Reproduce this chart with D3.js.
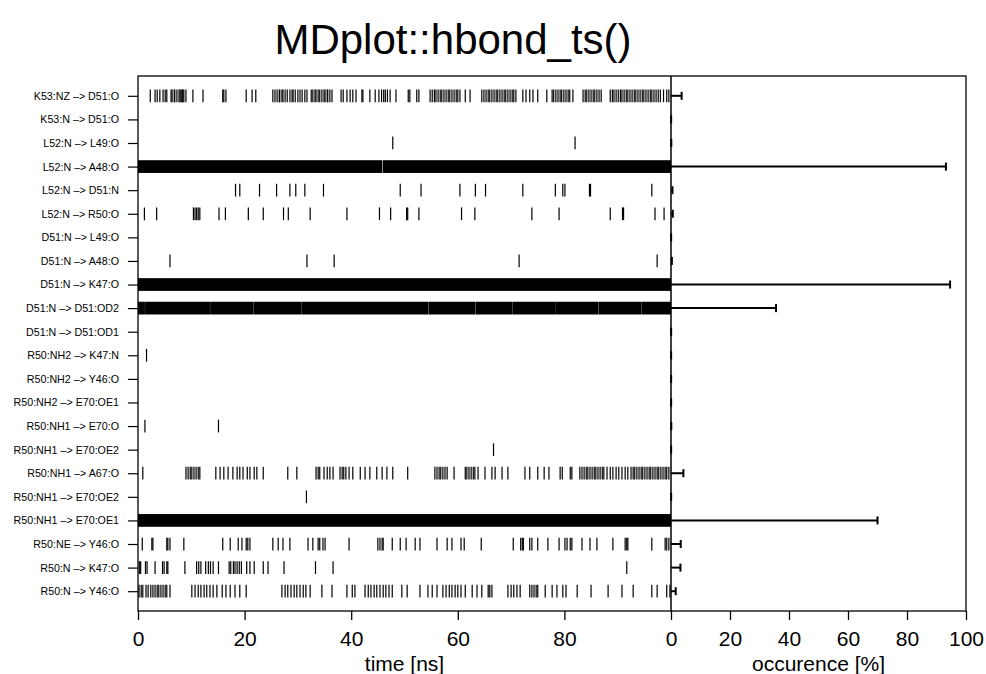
<!DOCTYPE html>
<html>
<head>
<meta charset="utf-8">
<script src="https://cdn.jsdelivr.net/npm/d3@7"></script>
<style>
  body { margin: 0; background: #fff; }
  svg text { font-family: "Liberation Sans", Arial, Helvetica, sans-serif; fill: #000; }
</style>
</head>
<body>
<svg id="chart" width="986" height="674"></svg>
<script>
// Hydrogen bond donor -> acceptor pairs, top to bottom
const hbondLabels = [
  "K53:NZ –> D51:O", "K53:N –> D51:O", "L52:N –> L49:O", "L52:N –> A48:O",
  "L52:N –> D51:N", "L52:N –> R50:O", "D51:N –> L49:O", "D51:N –> A48:O",
  "D51:N –> K47:O", "D51:N –> D51:OD2", "D51:N –> D51:OD1", "R50:NH2 –> K47:N",
  "R50:NH2 –> Y46:O", "R50:NH2 –> E70:OE1", "R50:NH1 –> E70:O", "R50:NH1 –> E70:OE2",
  "R50:NH1 –> A67:O", "R50:NH1 –> E70:OE2", "R50:NH1 –> E70:OE1", "R50:NE –> Y46:O",
  "R50:N –> K47:O", "R50:N –> Y46:O"
];

// Occurrence of each hydrogen bond over the trajectory [%]
const occurrence = [
  3.6, 0.05, 0.1, 93.2, 0.5, 0.6, 0.05, 0.3, 94.6, 35.6, 0.05,
  0.05, 0.05, 0.05, 0.1, 0.05, 4.2, 0.05, 70.0, 3.3, 3.2, 1.6
];

// Individual frames [ns] in which the hydrogen bond is present
const hbondFrames = [
  [2.3, 3.2, 3.6, 4.1, 4.7, 5.1, 5.4, 6.2, 6.4, 6.8, 6.9, 7.3, 7.7, 7.9, 8.1, 8.3, 8.4, 8.6, 9.0,
   10.3, 12.2, 15.9, 16.1, 16.5, 20.3, 21.4, 22.1, 25.3, 25.7, 26.1, 26.5, 26.6, 27.0, 27.2, 27.6,
   28.0, 28.5, 28.9, 29.1, 29.5, 30.0, 30.4, 30.8, 31.3, 31.7, 32.5, 32.8, 33.2, 33.4, 33.8, 34.1,
   34.5, 34.9, 35.1, 35.5, 35.6, 36.0, 36.4, 38.1, 38.5, 39.2, 39.8, 40.3, 40.9, 42.0, 42.2, 43.5,
   44.5, 45.2, 45.7, 46.1, 46.4, 46.8, 47.3, 48.4, 50.7, 51.0, 52.3, 52.7, 54.8, 55.2, 55.6, 55.9,
   56.3, 56.7, 57.0, 57.4, 57.8, 58.2, 58.5, 58.9, 59.3, 59.7, 60.0, 60.4, 61.4, 62.3, 64.5, 64.9,
   65.3, 65.7, 66.0, 66.4, 66.8, 67.2, 67.5, 67.9, 68.3, 68.7, 69.0, 69.4, 69.8, 70.2, 70.5, 70.9,
   72.2, 72.8, 73.5, 74.1, 75.0, 76.7, 77.7, 78.0, 78.4, 78.8, 79.2, 79.5, 79.9, 80.3, 80.7, 81.0,
   81.6, 83.5, 83.9, 84.2, 84.6, 85.0, 85.4, 85.7, 86.1, 86.5, 86.9, 88.6, 89.0, 89.3, 89.7, 90.1,
   90.5, 90.8, 91.2, 91.6, 91.9, 92.3, 92.7, 93.1, 93.4, 93.8, 94.2, 94.6, 94.9, 95.3, 95.7, 96.1,
   96.4, 96.8, 97.2, 97.6, 98.0, 98.6, 99.2, 99.6],
  [],
  [47.8, 82.0],
  [],
  [18.3, 19.1, 22.8, 26.0, 28.5, 29.6, 31.3, 34.8, 49.2, 53.1, 60.4, 63.3, 65.2, 72.2, 78.3, 79.7,
   80.1, 84.7, 84.9, 96.4],
  [1.2, 3.5, 10.4, 10.7, 11.0, 11.3, 11.6, 15.2, 16.4, 20.7, 23.5, 27.3, 28.2, 32.3, 39.2, 45.3,
   47.4, 50.4, 50.6, 52.7, 60.7, 63.2, 73.9, 79.0, 88.6, 90.9, 91.1, 97.0, 98.7],
  [],
  [6.0, 31.7, 36.8, 71.5, 97.4],
  [],
  [],
  [],
  [1.6],
  [],
  [],
  [1.3, 15.1],
  [66.7],
  [0.9, 9.0, 9.4, 9.8, 10.1, 10.5, 10.9, 11.3, 11.6, 14.6, 15.4, 16.1, 16.9, 17.8, 18.6, 19.1,
   19.7, 20.5, 21.0, 21.8, 22.3, 23.5, 28.1, 29.8, 33.4, 33.8, 34.1, 34.9, 35.5, 36.0, 36.6, 37.9,
   38.3, 38.6, 39.0, 39.6, 40.3, 41.7, 42.6, 43.5, 44.8, 45.8, 46.7, 47.8, 50.6, 55.7, 56.1, 56.5,
   56.8, 57.2, 57.6, 58.0, 59.3, 61.4, 61.7, 62.1, 62.5, 62.9, 63.2, 63.8, 65.1, 66.4, 67.0, 68.3,
   69.4, 72.6, 73.5, 75.0, 76.2, 77.1, 79.2, 79.6, 81.1, 81.4, 82.9, 83.3, 83.7, 84.1, 84.4, 84.8,
   85.2, 85.6, 85.9, 86.3, 86.7, 87.1, 87.4, 88.0, 88.6, 89.1, 89.7, 90.2, 90.8, 91.4, 91.9, 92.5,
   92.9, 93.2, 93.6, 94.0, 94.4, 94.7, 95.1, 95.5, 95.9, 96.2, 96.6, 97.0, 97.4, 97.7, 98.1, 98.5,
   98.9, 99.2, 99.6],
  [31.6],
  [],
  [0.8, 2.6, 2.8, 5.4, 5.6, 6.0, 8.6, 15.9, 17.3, 18.8, 19.5, 20.3, 20.6, 21.0, 25.3, 26.3, 27.2,
   28.5, 31.9, 32.8, 33.8, 34.1, 34.7, 35.1, 39.6, 45.0, 45.4, 45.8, 46.0, 47.7, 49.2, 50.3, 52.0,
   52.9, 56.1, 58.0, 58.9, 60.6, 61.2, 64.4, 70.4, 71.8, 72.1, 72.3, 73.5, 73.9, 75.0, 76.9, 79.0,
   80.1, 80.5, 81.1, 81.4, 83.3, 84.8, 86.1, 89.1, 91.4, 91.7, 91.9, 96.4, 98.9, 99.2, 99.6],
  [0.25, 0.5, 1.4, 1.7, 3.2, 4.6, 4.9, 5.4, 5.6, 8.8, 11.0, 11.4, 11.8, 12.7, 13.2, 13.6, 14.1,
   15.1, 17.1, 17.4, 17.9, 18.2, 18.6, 19.0, 19.4, 20.4, 21.0, 21.8, 23.5, 24.4, 27.4, 33.3, 36.6,
   91.7],
  [0.2, 0.6, 0.9, 1.5, 1.9, 2.4, 2.8, 3.2, 3.6, 3.9, 4.3, 4.7, 5.1, 5.4, 6.0, 10.1, 10.7, 11.3,
   11.8, 12.4, 12.9, 13.5, 14.1, 14.8, 15.8, 16.5, 17.3, 18.2, 19.1, 20.3, 27.0, 27.6, 28.1, 28.7,
   29.3, 29.8, 30.4, 31.0, 31.5, 32.3, 34.5, 36.4, 39.2, 40.2, 40.7, 42.6, 43.2, 43.7, 44.3, 44.8,
   45.4, 46.0, 46.5, 47.1, 47.7, 49.5, 50.5, 52.9, 54.4, 55.2, 56.1, 57.2, 57.8, 58.4, 58.9, 59.5,
   60.0, 60.6, 61.4, 62.7, 63.6, 64.5, 65.7, 66.0, 66.4, 69.4, 70.0, 70.5, 71.1, 71.7, 73.5, 73.9,
   74.3, 74.7, 75.0, 76.4, 77.7, 78.6, 79.7, 80.3, 82.4, 85.0, 88.2, 90.8, 92.9, 96.4, 97.4, 99.2,
   99.8]
];

// Continuous stretches [start, end] in ns where the bond is present in (nearly) every frame
const hbondSpans = [
  [], [], [],
  [[0, 45.8], [45.9, 100]],
  [], [], [], [],
  [[0, 100]],
  [[0, 1.3], [1.33, 13.5], [13.53, 21.6], [21.63, 30.6], [30.63, 54.5], [54.53, 63.3],
   [63.33, 70.3], [70.33, 78.4], [78.43, 86.4], [86.43, 94.5], [94.53, 100]],
  [], [], [], [], [], [], [], [],
  [[0, 100]],
  [], [], []
];

const timeTicks = [0, 20, 40, 60, 80];
const occurrenceTicks = [0, 20, 40, 60, 80, 100];

const svg = d3.select("#chart");
const nRows = hbondLabels.length;

// Panel geometry
const plotLeft = 138, plotSplit = 671, plotRight = 966, plotTop = 76, plotBottom = 611;
const rowPad = 0.84;      // extra room above first and below last row (in row units)
const markHalf = 0.27;    // half-height of a frame mark (in row units)

const x = d3.scaleLinear().domain([0, 100]).range([plotLeft, plotSplit]);
const xOcc = d3.scaleLinear().domain([0, 100]).range([plotSplit, plotRight]);
const y = d3.scaleLinear().domain([1 - rowPad, nRows + rowPad]).range([plotTop, plotBottom]);

const rows = hbondLabels.map((label, i) => ({
  label, row: i + 1, frames: hbondFrames[i], spans: hbondSpans[i], occ: occurrence[i]
}));

// Title
svg.append("text")
  .attr("x", 453).attr("y", 54)
  .attr("text-anchor", "middle")
  .style("font-size", "42px")
  .text("MDplot::hbond_ts()");

// Time series marks
const ts = svg.append("g").attr("class", "timeseries");
rows.forEach(r => {
  ts.selectAll(null).data(r.spans).enter().append("rect")
    .attr("x", d => x(d[0]))
    .attr("width", d => x(d[1]) - x(d[0]))
    .attr("y", y(r.row - markHalf))
    .attr("height", y(r.row + markHalf) - y(r.row - markHalf))
    .attr("fill", "#000");
  ts.selectAll(null).data(r.frames).enter().append("line")
    .attr("x1", d => x(d)).attr("x2", d => x(d))
    .attr("y1", y(r.row - markHalf)).attr("y2", y(r.row + markHalf))
    .attr("stroke", "#000").attr("stroke-width", 1.2);
});

// Occurrence bars with end caps
const occ = svg.append("g").attr("class", "occurrence");
occ.selectAll("line.bar").data(rows).enter().append("line")
  .attr("class", "bar")
  .attr("x1", xOcc(0)).attr("x2", d => xOcc(d.occ))
  .attr("y1", d => y(d.row)).attr("y2", d => y(d.row))
  .attr("stroke", "#000").attr("stroke-width", 2);
occ.selectAll("line.cap").data(rows).enter().append("line")
  .attr("class", "cap")
  .attr("x1", d => xOcc(d.occ)).attr("x2", d => xOcc(d.occ))
  .attr("y1", d => y(d.row) - 4).attr("y2", d => y(d.row) + 4)
  .attr("stroke", "#000").attr("stroke-width", 2);

// Frame and panel divider
svg.append("rect")
  .attr("x", plotLeft).attr("y", plotTop)
  .attr("width", plotRight - plotLeft).attr("height", plotBottom - plotTop)
  .attr("fill", "none").attr("stroke", "#000").attr("stroke-width", 1.3);
svg.append("line")
  .attr("x1", plotSplit).attr("x2", plotSplit).attr("y1", plotTop).attr("y2", plotBottom)
  .attr("stroke", "#000").attr("stroke-width", 1.5);

// Row labels
const yAxis = svg.append("g")
  .attr("transform", `translate(${plotLeft},0)`)
  .call(d3.axisLeft(y)
    .tickValues(rows.map(r => r.row))
    .tickFormat(v => hbondLabels[v - 1])
    .tickSize(10).tickPadding(9));
yAxis.select(".domain").remove();
yAxis.selectAll("line").attr("stroke-width", 1.2);
yAxis.selectAll("text").style("font-size", "10.7px")
  .style("font-family", "'Liberation Sans', Arial, sans-serif");

// Time axis
const xAxis = svg.append("g")
  .attr("transform", `translate(0,${plotBottom})`)
  .call(d3.axisBottom(x).tickValues(timeTicks).tickFormat(d3.format("d"))
    .tickSize(9).tickPadding(11));
xAxis.select(".domain").remove();

// Occurrence axis
const oAxis = svg.append("g")
  .attr("transform", `translate(0,${plotBottom})`)
  .call(d3.axisBottom(xOcc).tickValues(occurrenceTicks).tickFormat(d3.format("d"))
    .tickSize(9).tickPadding(11));
oAxis.select(".domain").remove();

[xAxis, oAxis].forEach(g => {
  g.selectAll("line").attr("stroke-width", 1.3);
  g.selectAll("text").style("font-size", "21px")
    .style("font-family", "'Liberation Sans', Arial, sans-serif");
});

// Axis titles
svg.append("text")
  .attr("x", (plotLeft + plotSplit) / 2).attr("y", 671)
  .attr("text-anchor", "middle").style("font-size", "21px")
  .text("time [ns]");
svg.append("text")
  .attr("x", (plotSplit + plotRight) / 2).attr("y", 671)
  .attr("text-anchor", "middle").style("font-size", "21px")
  .text("occurence [%]");
</script>
</body>
</html>
